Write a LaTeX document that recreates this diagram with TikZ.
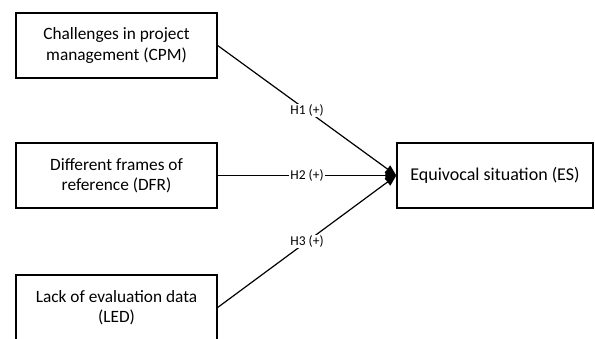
\documentclass[tikz,border=0pt]{standalone}
\usepackage{fontspec}
\setmainfont{Carlito}
\usetikzlibrary{arrows.meta}

\begin{document}
\begin{tikzpicture}[x=1pt,y=-1pt,
  construct/.style={draw,line width=1.3pt,minimum width=201pt,minimum height=65pt,inner sep=2pt,align=center,font=\fontsize{17.3}{20.5}\selectfont},
  path/.style={-{Triangle[length=11pt,width=9pt]},line width=1.2pt},
  hyp/.style={fill=white,inner sep=1pt,font=\fontsize{13.5}{15}\selectfont}]
  \useasboundingbox (0,0) rectangle (595,339);
  \node[construct] (cpm) at (116.5,45.5) {Challenges in project\\management (CPM)};
  \node[construct] (dfr) at (116.5,175.5) {Different frames of\\reference (DFR)};
  \node[construct] (led) at (116.5,307.5) {Lack of evaluation data\\(LED)};
  \node[construct,minimum width=196pt,font=\fontsize{18}{21}\selectfont] (es) at (495,175.5) {Equivocal situation (ES)};
  \draw[path] (cpm.east) -- node[hyp] {H1 (+)} (es.west);
  \draw[path] (dfr.east) -- node[hyp] {H2 (+)} (es.west);
  \draw[path] (led.east) -- node[hyp] {H3 (+)} (es.west);
\end{tikzpicture}
\end{document}
